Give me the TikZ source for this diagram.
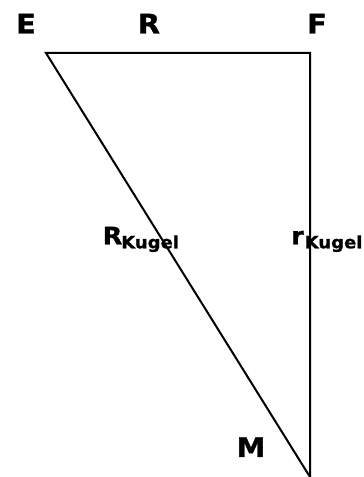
\documentclass[tikz,border=0pt]{standalone}
\usepackage{fontspec}
\setmainfont{DejaVu Sans}[BoldFont={DejaVu Sans Bold}]
\newfontfamily\lblfont{DejaVu Sans Bold}[FakeStretch=1.06,FakeBold=1.2]
\begin{document}
\begin{tikzpicture}[x=1pt,y=1pt,
  lbl/.style={inner sep=0pt,anchor=base,font=\lblfont\fontsize{27}{27}\selectfont},
  mid/.style={inner sep=0pt,anchor=base west,font=\lblfont\fontsize{24}{24}\selectfont},
  sub/.style={inner sep=0pt,anchor=base west,font=\lblfont\fontsize{17}{17}\selectfont},
  edge/.style={line width=2pt,line join=miter}]
\useasboundingbox (0,0) rectangle (364,477);
\coordinate (E) at (46,424);
\coordinate (F) at (310,424);
\coordinate (M) at (310,0);
\draw[edge] (E) -- (F) -- (M) -- cycle;
\node[lbl] (lE) at (26,443.5) {E};
\node[lbl] (lR) at (149,443.5) {R};
\node[lbl] (lF) at (317,443.5) {F};
\node[lbl] (lM) at (251,20) {M};
\node[mid] (lRK) at (102.5,232.7) {R};
\node[sub] (sRK) at (121,228.7) {Kugel};
\node[mid] (lrK) at (291,232.7) {r};
\node[sub] (srK) at (304.5,228.7) {Kugel};
\end{tikzpicture}
\end{document}
